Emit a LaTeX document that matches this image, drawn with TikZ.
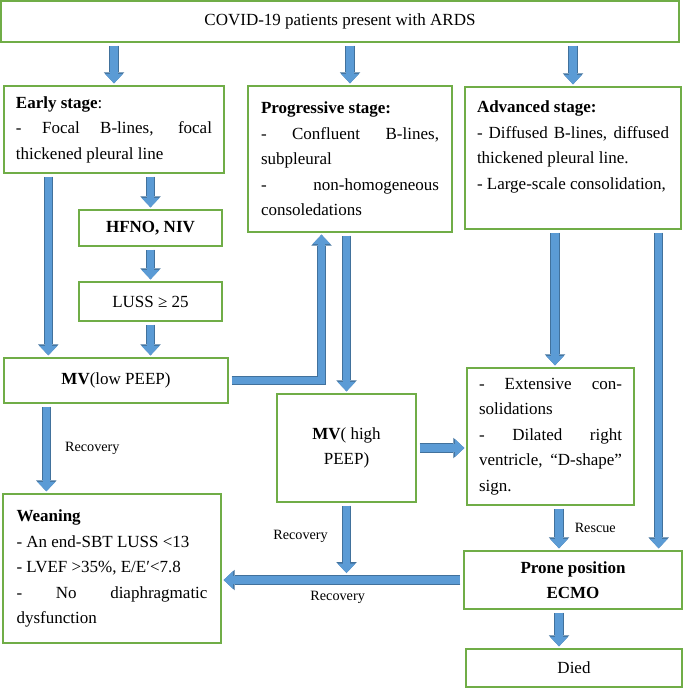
\documentclass[tikz,border=0pt]{standalone}
\usepackage{fontspec}
\setmainfont{Liberation Serif}
\usetikzlibrary{calc, arrows.meta}

\definecolor{boxgreen}{HTML}{70AD47}
\definecolor{arrowfill}{HTML}{5B9BD5}
\definecolor{arrowedge}{HTML}{41719C}

\tikzset{
  box/.style={draw=boxgreen, line width=1.3pt, inner sep=0pt,
    font=\fontsize{17}{25.5}\selectfont},
  flow/.style={line width=7.5pt, draw=arrowfill, line join=miter,
    -{Triangle[width=18pt,length=9.5pt,line width=0pt]},
    shorten <=3pt, shorten >=2pt,
    preaction={draw=arrowedge, line width=9.5pt,
      -{Triangle[width=20.5pt,length=11pt,line width=0pt]}}},
  lbl/.style={inner sep=2pt, font=\fontsize{14.2}{17}\selectfont}
}

\begin{document}
\begin{tikzpicture}[x=1pt, y=-1pt]
  \useasboundingbox (0,0) rectangle (685,690);

  % ボックスの描画
  \node[box, minimum width=678pt, minimum height=41pt] (covid) at (340,21.5)
    {COVID-19 patients present with ARDS};
  \node[box, minimum width=220pt, minimum height=87pt, text width=196pt, align=justify] (early) at (114,129.5)
    {\textbf{Early stage}:\\ - Focal B-lines, focal\linebreak thickened pleural line};
  \node[box, minimum width=204pt, minimum height=146pt, text width=178pt, align=justify] (prog) at (350,159)
    {\textbf{Progressive stage:}\\ - Confluent B-lines,\linebreak subpleural\\ - non-homogeneous\linebreak consoledations};
  \node[box, minimum width=216pt, minimum height=142pt, text width=192pt, align=justify] (adv) at (573,158)
    {\textbf{Advanced stage:}\\ - Diffused B-lines, diffused\linebreak thickened pleural line.\\ - Large-scale consolidation,\\ \mbox{}};
  \node[box, minimum width=143pt, minimum height=36pt] (hfno) at (150.5,228) {\textbf{HFNO, NIV}};
  \node[box, minimum width=143pt, minimum height=39pt] (luss) at (150.5,301.5) {LUSS ≥ 25};
  \node[box, minimum width=224pt, minimum height=45pt] (mvlow) at (116,380.5) {\textbf{MV}(low PEEP)};
  \node[box, minimum width=139pt, minimum height=108pt, align=center] (mvhigh) at (346.5,448)
    {\textbf{MV}( high\\PEEP)};
  \node[box, minimum width=167pt, minimum height=137pt, text width=143pt, align=justify] (ext) at (550.5,436.5)
    {- Extensive con-\linebreak solidations\\ - Dilated right\linebreak ventricle, “D-shape”\linebreak sign.};
  \node[box, minimum width=218pt, minimum height=149pt, text width=191pt, align=justify] (wean) at (112,568.5)
    {\textbf{Weaning}\\ - An end-SBT LUSS <13\\ - LVEF >35\%, E/E′<7.8\\ - No diaphragmatic\linebreak dysfunction};
  \node[box, minimum width=218pt, minimum height=58pt, align=center] (prone) at (573,580)
    {\textbf{Prone position}\\\textbf{ECMO}};
  \node[box, minimum width=216pt, minimum height=38pt] (died) at (574,668) {Died};

  % 矢印の描画
  \coordinate (extin) at ([xshift=4.5pt]ext.north);
  \coordinate (advright) at ([xshift=-23pt]adv.south east);
  \coordinate (extout) at ([xshift=8.5pt]ext.south);
  \coordinate (proneout) at ([xshift=-14pt]prone.south);

  \draw[flow] (covid.south -| early.north) -- (early.north);
  \draw[flow] (covid.south -| prog.north) -- (prog.north);
  \draw[flow] (covid.south -| adv.north) -- (adv.north);
  \draw[flow] (early.south -| hfno.north) -- (hfno.north);
  \draw[flow] (hfno.south) -- (luss.north);
  \draw[flow] (luss.south) -- (luss.south |- mvlow.north);
  \draw[flow] ([xshift=45pt]early.south west) -- ([xshift=45pt]mvlow.north west);
  \draw[flow] (mvlow.east) -| ([xshift=-28.5pt]prog.south);
  \draw[flow] (prog.south -| mvhigh.north) -- (mvhigh.north);
  \draw[flow] (extin |- adv.south) -- (extin);
  \draw[flow] (advright) -- (advright |- prone.north);
  \draw[flow] (mvhigh.east) -- (mvhigh.east -| ext.west);
  \draw[flow] (extout) -- node[lbl, right=10pt] {Rescue} (extout |- prone.north);
  \draw[flow] (proneout) -- (proneout |- died.north);
  \draw[flow] (prone.west) -- node[lbl, below=5pt, pos=0.52] {Recovery} (prone.west -| wean.east);
  \draw[flow, shorten >=7pt] (mvhigh.south) -- node[lbl, left=13pt, pos=0.43] {Recovery} (mvhigh.south |- prone.west);
  \draw[flow] ([xshift=43pt]mvlow.south west) -- node[lbl, right=13pt] {Recovery} ([xshift=44pt]wean.north west);
\end{tikzpicture}
\end{document}
